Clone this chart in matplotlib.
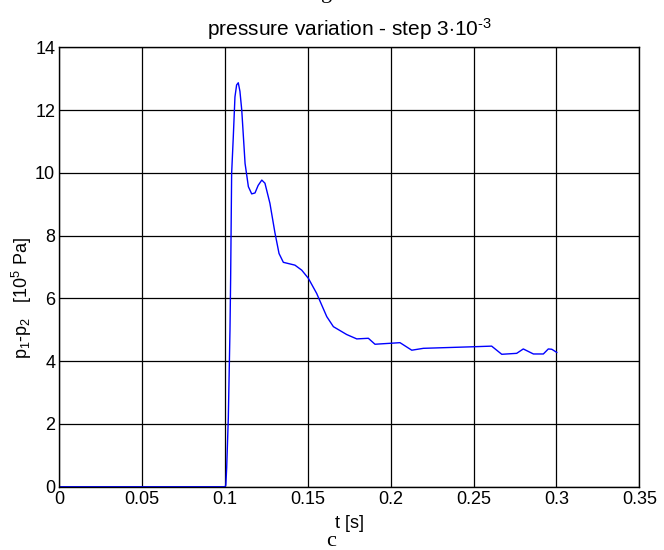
# pressure variation plot (p1 - p2 vs time)
import numpy as np
import matplotlib
matplotlib.use('Agg')
import matplotlib.pyplot as plt

# data
t = [0.0, 0.05, 0.1, 0.1005, 0.101, 0.102, 0.103, 0.1034, 0.104, 0.105, 0.106,
     0.107, 0.108, 0.109, 0.1101, 0.1121, 0.1141, 0.1161, 0.1181, 0.12, 0.1222,
     0.1241, 0.1271, 0.1301, 0.1326, 0.1352, 0.1422, 0.1463, 0.1503, 0.1553,
     0.1614, 0.1654, 0.1734, 0.1795, 0.1865, 0.1905, 0.1996, 0.2056, 0.2127,
     0.2197, 0.2498, 0.2609, 0.267, 0.276, 0.28, 0.2861, 0.2921, 0.2951, 0.2972,
     0.3002]
p = [0.0, 0.0, 0.0, 0.05, 0.6, 2.2, 5.0, 6.65, 9.98, 11.15, 12.42,
     12.8, 12.87, 12.6, 12.0, 10.3, 9.56, 9.33, 9.36, 9.6, 9.77,
     9.67, 9.03, 8.1, 7.43, 7.15, 7.06, 6.9, 6.64, 6.16,
     5.42, 5.1, 4.85, 4.71, 4.73, 4.54, 4.57, 4.59, 4.35,
     4.41, 4.46, 4.48, 4.22, 4.25, 4.39, 4.23, 4.23, 4.39, 4.38,
     4.28]

xticks = [0, 0.05, 0.1, 0.15, 0.2, 0.25, 0.3, 0.35]
xlabels = ['0', '0.05', '0.1', '0.15', '0.2', '0.25', '0.3', '0.35']
yticks = [0, 2, 4, 6, 8, 10, 12, 14]

plt.rcParams['font.family'] = ['Liberation Sans', 'DejaVu Sans']
plt.rcParams['mathtext.fontset'] = 'custom'
plt.rcParams['mathtext.rm'] = 'Liberation Sans'
plt.rcParams['mathtext.it'] = 'Liberation Sans'

fig = plt.figure(figsize=(6.64, 5.5), dpi=100)
ax = fig.add_axes([0.0893, 0.115, 0.8735, 0.799])

ax.plot(t, p, color='#0000ff', linewidth=1.0)

ax.set_xlim(0, 0.35)
ax.set_ylim(0, 14)
ax.set_xticks(xticks)
ax.set_xticklabels(xlabels)
ax.set_yticks(yticks)
ax.tick_params(direction='in', length=0, labelsize=13, pad=3)
ax.grid(True, color='black', linewidth=0.9, linestyle='-')
for s in ax.spines.values():
    s.set_linewidth(1.0)

ax.set_title('pressure variation - step 3$\\cdot$10$^{\\text{-3}}$', fontsize=15, pad=8.5)
ax.set_xlabel('t [s]', fontsize=13, labelpad=5)
ax.set_ylabel('p$_1$-p$_2$   [10$^5$ Pa]', fontsize=13)
ax.yaxis.set_label_coords(-0.044, 0.43)

# caption letter under the plot and cut-off text above
fig.text(0.499, 0.008, 'c', family='Liberation Serif', fontsize=16, ha='center', va='baseline')
fig.text(0.492, 1.003, 'g', family='Liberation Serif', fontsize=16, ha='center', va='baseline')

fig.savefig('out.png', dpi=100)
